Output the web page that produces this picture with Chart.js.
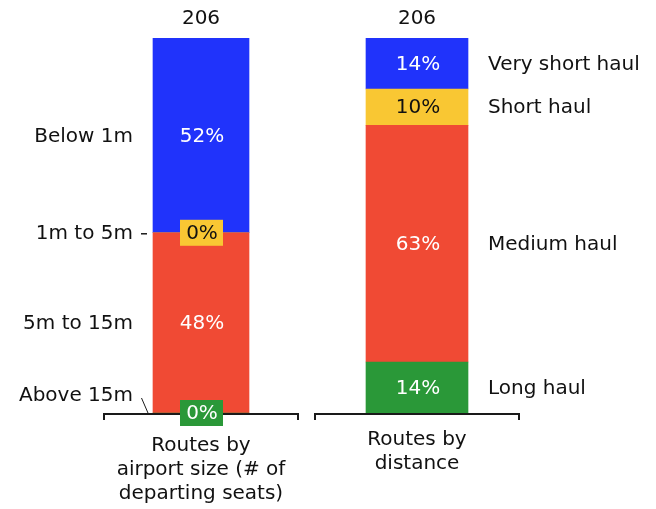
<!DOCTYPE html>
<html>
<head>
<meta charset="utf-8">
<script src="https://cdn.jsdelivr.net/npm/chart.js@4"></script>
<style>
  html, body { margin: 0; padding: 0; background: #fff; }
  #wrap { width: 656px; height: 509px; }
</style>
</head>
<body>
<div id="wrap"><canvas id="chart" width="656" height="509"></canvas></div>
<script>
// categories (two stacked bars)
const categories = [
    ['Routes by', 'airport size (# of', 'departing seats)'],
    ['Routes by', 'distance']
];
const totals = [206, 206];

// left bar: route counts by airport size (bottom to top)
const sizeLabels = ['Above 15m', '5m to 15m', '1m to 5m', 'Below 1m'];
const sizeValues = [0, 99, 0, 107];

// right bar: route counts by distance (bottom to top)
const distLabels = ['Long haul', 'Medium haul', 'Short haul', 'Very short haul'];
const distValues = [28, 130, 20, 28];

const colors = ['#2a9838', '#f04a34', '#f9c733', '#2033fb'];
const FONT = '"DejaVu Sans", sans-serif';

const datasets = [];
sizeLabels.forEach((lab, i) => {
    datasets.push({
        label: lab,
        data: [sizeValues[i], null],
        backgroundColor: colors[i],
        barThickness: 96,
        side: 'left'
    });
});
distLabels.forEach((lab, i) => {
    datasets.push({
        label: lab,
        data: [null, distValues[i]],
        backgroundColor: colors[i],
        barThickness: 102,
        side: 'right'
    });
});

const annotate = {
    id: 'annotate',
    afterDatasetsDraw(chart) {
        const ctx = chart.ctx;
        const xs = chart.scales.x;
        const area = chart.chartArea;
        ctx.save();
        ctx.font = '20px ' + FONT;
        ctx.textBaseline = 'middle';

        // brackets under each bar
        const halfW = [97, 102];
        ctx.strokeStyle = '#1a1a1a';
        ctx.lineWidth = 2;
        categories.forEach((c, i) => {
            const cx = xs.getPixelForValue(i);
            const y = area.bottom + 1;
            ctx.beginPath();
            ctx.moveTo(cx - halfW[i], y + 6);
            ctx.lineTo(cx - halfW[i], y);
            ctx.lineTo(cx + halfW[i], y);
            ctx.lineTo(cx + halfW[i], y + 6);
            ctx.stroke();
        });

        // segment labels + side labels
        chart.data.datasets.forEach((ds, di) => {
            const meta = chart.getDatasetMeta(di);
            const idx = ds.side === 'left' ? 0 : 1;
            const el = meta.data[idx];
            const v = ds.data[idx];
            const pct = Math.round(v / totals[idx] * 100) + '%';
            const cy = (el.y + el.base) / 2;
            const isYellow = ds.backgroundColor === colors[2];
            if (v === 0) {
                ctx.fillStyle = ds.backgroundColor;
                ctx.fillRect(el.x - 21, cy - 13, 43, 26);
            }
            ctx.fillStyle = isYellow ? '#111' : '#fff';
            ctx.textAlign = 'center';
            ctx.fillText(pct, el.x + 1, cy + 1);

            ctx.fillStyle = '#111';
            if (ds.side === 'left') {
                ctx.textAlign = 'right';
                let ly = cy;
                if (ds.label === 'Above 15m') {
                    ly = cy - 18;
                    ctx.beginPath();
                    ctx.lineWidth = 1;
                    ctx.moveTo(141.5, ly + 3);
                    ctx.lineTo(148, area.bottom);
                    ctx.stroke();
                }
                if (ds.label === '1m to 5m') {
                    ctx.beginPath();
                    ctx.lineWidth = 1.5;
                    ctx.moveTo(141, cy + 1);
                    ctx.lineTo(147, cy + 1);
                    ctx.stroke();
                }
                ctx.fillText(ds.label, el.x - el.width / 2 - 20, ly + 1);
            } else {
                ctx.textAlign = 'left';
                ctx.fillText(ds.label, el.x + el.width / 2 + 20, cy + 1);
            }
        });

        // totals on top and category names below
        ctx.textAlign = 'center';
        ctx.fillStyle = '#111';
        const lineStart = [446, 440];
        categories.forEach((lines, i) => {
            const cx = xs.getPixelForValue(i);
            ctx.fillText(String(totals[i]), cx, area.top - 19);
            lines.forEach((t, k) => {
                ctx.fillText(t, cx, lineStart[i] + k * 24);
            });
        });
        ctx.restore();
    }
};

new Chart(document.getElementById('chart'), {
    type: 'bar',
    data: {
        labels: categories,
        datasets: datasets
    },
    options: {
        responsive: false,
        animation: false,
        layout: {
            padding: { left: 93, right: 131, top: 38, bottom: 96 }
        },
        plugins: {
            legend: { display: false },
            tooltip: { enabled: false }
        },
        scales: {
            x: { stacked: true, display: false },
            y: { stacked: true, display: false, min: 0, max: 206 }
        }
    },
    plugins: [annotate]
});
</script>
</body>
</html>
